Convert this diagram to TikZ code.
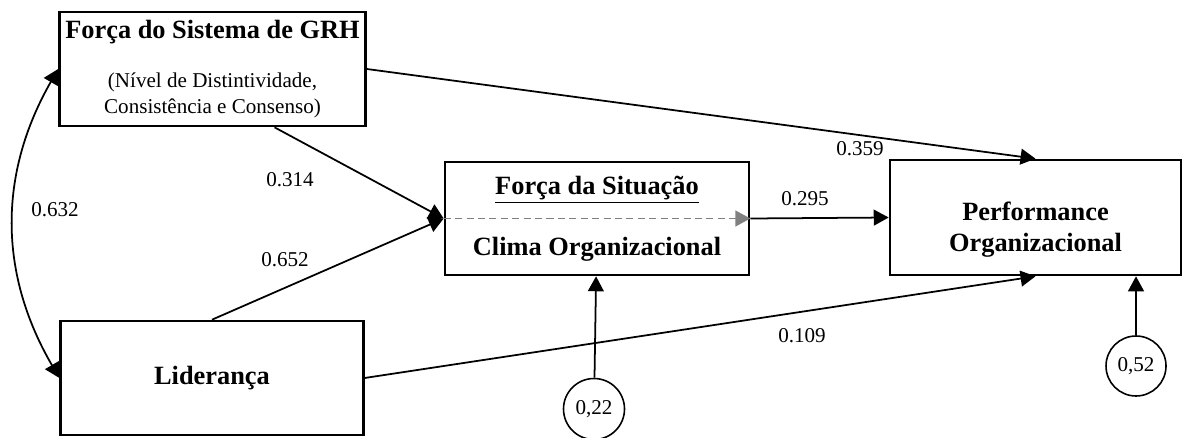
\documentclass[tikz,border=0pt]{standalone}
\usepackage{fontspec}
\setmainfont{Liberation Serif}
\usetikzlibrary{arrows.meta}

\newcommand{\subtxt}{\mdseries\fontsize{12}{14.5}\selectfont}

\begin{document}
\begin{tikzpicture}[
    construct/.style={rectangle,draw,line width=1.5pt,align=center,
      font=\fontsize{15}{18}\selectfont\bfseries},
    resid/.style={circle,draw,line width=0.9pt,minimum size=1.22cm,inner sep=0pt,
      font=\fontsize{12}{14}\selectfont},
    link/.style={-{Triangle[length=8.5pt,width=9pt]},line width=1pt},
    glink/.style={-{Triangle[length=8.5pt,width=9pt]},line width=1pt,gray,
      dash pattern=on 4pt off 2.5pt},
    coef/.style={font=\fontsize{12}{14}\selectfont}
  ]
    \useasboundingbox (0,0) rectangle (23.68,8.74);
    % Constructs
    \node[construct,minimum width=6.06cm,minimum height=2.28cm] (grh) at (4.25,7.36)
      {Força do Sistema de GRH\\[10pt]
       \subtxt (Nível de Distintividade,\\[-3.5pt]
       \subtxt Consistência e Consenso)};
    \node[construct,minimum width=6.05cm,minimum height=2.28cm] (lid) at (4.24,1.18)
      {Liderança};
    \node[construct,minimum width=6.08cm,minimum height=2.26cm] (clima) at (11.94,4.37)
      {\underline{Força da Situação}\\[17pt] Clima Organizacional};
    \node[construct,minimum width=5.82cm,minimum height=2.3cm] (perf) at (20.71,4.39) {};
    \node[font=\fontsize{15}{18}\selectfont\bfseries,align=center] (perftxt)
      at ([yshift=-0.24cm]perf.center) {Performance\\ Organizacional};
    % Residuals
    \node[resid] (e1) at (11.88,0.56) {0,22};
    \node[resid,minimum size=1.2cm] (e2) at (22.72,1.42) {0,52};
    % Paths
    \draw[link] (grh.east) -- (perf.north);
    \draw[link] ([xshift=1.24cm]grh.south) -- (clima.west);
    \draw[link] (lid.north) -- (clima.west);
    \draw[link] (lid.east) -- (perf.south);
    \draw[link] (clima.east) -- (perf.west);
    \draw[glink] (clima.west) -- (clima.east);
    \draw[link] (e1) -- (clima);
    \draw[link] (e2) -- (e2 |- perf.south);
    \draw[link,{Triangle[length=8.5pt,width=9pt]}-{Triangle[length=8.5pt,width=9pt]}]
      (grh.west) to[bend right=30] (lid.west);
    % Coefficients
    \node[coef] (c632) at (1.10,4.54) {0.632};
    \node[coef] (c314) at (5.80,5.14) {0.314};
    \node[coef] (c652) at (5.70,3.54) {0.652};
    \node[coef] (c295) at (16.10,4.76) {0.295};
    \node[coef] (c109) at (16.04,2.02) {0.109};
    \node[coef] (c359) at (17.20,5.76) {0.359};
\end{tikzpicture}
\end{document}
